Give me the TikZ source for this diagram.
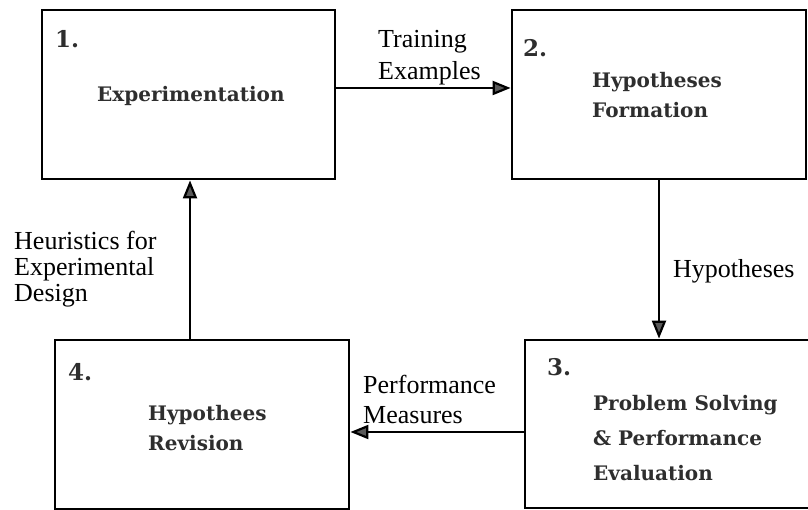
\documentclass[tikz,border=0pt]{standalone}
\usepackage{fontspec}
\setmainfont{Liberation Serif}
\newfontfamily\boxfont{DejaVu Serif}
\usetikzlibrary{arrows.meta}
\tikzset{
  stagebox/.style={draw=black, line width=2.8bp, inner sep=0pt},
  lbl/.style={anchor=base west, inner sep=0pt, font=\fontsize{26bp}{30bp}\selectfont},
  ttl/.style={anchor=base west, inner sep=0pt, text=black!82, font=\boxfont\bfseries\fontsize{20bp}{24bp}\selectfont},
  num/.style={anchor=base west, inner sep=0pt, text=black!82, font=\boxfont\bfseries\fontsize{23bp}{26bp}\selectfont},
  flow/.style={line width=2.2bp, draw=black, -{Triangle[length=18bp,width=14bp,fill=black!65]}}
}
\begin{document}
\begin{tikzpicture}[x=1bp,y=-1bp]
\useasboundingbox (0,0) rectangle (808,510);
% boxes
\node[stagebox, minimum width=293bp, minimum height=169bp] (b1) at (188.5,94.5) {};
\node[stagebox, minimum width=294bp, minimum height=169bp] (b2) at (659,94.5) {};
\node[stagebox, minimum width=305bp, minimum height=168bp] (b3) at (677.5,424) {};
\node[stagebox, minimum width=294bp, minimum height=169bp] (b4) at (202,424.5) {};
% numbers
\node[num] (n1) at (55,48) {1.};
\node[num] (n2) at (523,57) {2.};
\node[num] (n3) at (547,375) {3.};
\node[num] (n4) at (68,380) {4.};
% titles
\node[ttl] (t1) at (97,102) {Experimentation};
\node[ttl] (t2a) at (592,88) {Hypotheses};
\node[ttl] (t2b) at (592,118) {Formation};
\node[ttl] (t3a) at (593,410) {Problem Solving};
\node[ttl] (t3b) at (593,445) {\& Performance};
\node[ttl] (t3c) at (593,480) {Evaluation};
\node[ttl] (t4a) at (148,420) {Hypothees};
\node[ttl] (t4b) at (148,450) {Revision};
% connectors
\draw[flow] ([yshift=6.5bp]b1.east) -- ([yshift=6.5bp]b1.east -| b2.west);
\draw[flow] (b2.south) -- (b2.south |- b3.north);
\draw[flow] ([yshift=-8bp]b3.west) -- ([yshift=-8bp]b3.west -| b4.east);
\draw[flow] ([xshift=-12bp]b4.north) -- ([xshift=-12bp]b4.north |- b1.south);
% connector labels
\node[lbl] (l1a) at (378,48) {Training};
\node[lbl] (l1b) at (378,80) {Examples};
\node[lbl] (l2) at (673,278) {Hypotheses};
\node[lbl] (l3a) at (363,393) {Performance};
\node[lbl] (l3b) at (363,423) {Measures};
\node[lbl] (l4a) at (14,250) {Heuristics for};
\node[lbl] (l4b) at (14,276) {Experimental};
\node[lbl] (l4c) at (14,302) {Design};
\end{tikzpicture}
\end{document}
